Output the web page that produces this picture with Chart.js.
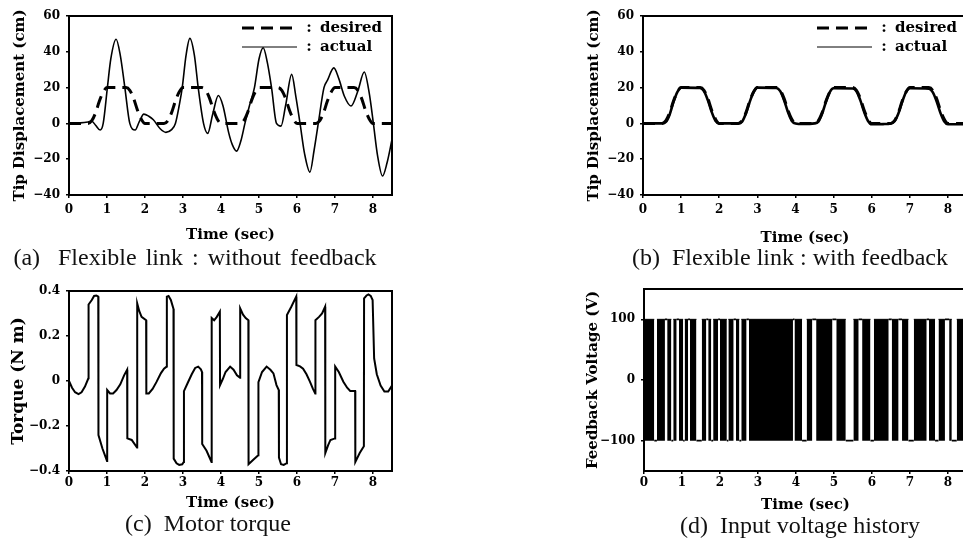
<!DOCTYPE html>
<html>
<head>
<meta charset="UTF-8">
<title>Flexible link response</title>
<script src="https://cdn.jsdelivr.net/npm/chart.js@4.4.1/dist/chart.umd.min.js"></script>
<style>
html, body { margin: 0; padding: 0; background: #fff; width: 963px; height: 541px; overflow: hidden; position: relative; }
canvas { position: absolute; }
.cap { position: absolute; font-family: "Liberation Serif", serif; font-size: 24px; color: #111; white-space: pre; transform: translate(-50%, -50%); }
</style>
<script>
// time axis, shared by all four panels
var timeTicks = [0, 1, 2, 3, 4, 5, 6, 7, 8];

// (a), (b) tip displacement (cm)
var dispTicks = [-40, -20, 0, 20, 40, 60];
var dispLabels = ['\u221240', '\u221220', '0', '20', '40', '60'];
var desiredCm = [[0,0],[0.5,0],[0.6,1.5],[0.7,6],[0.8,12.5],[0.9,17.5],[1.0,20],[1.5,20],[1.6,18.5],[1.7,14],[1.8,7.5],[1.9,2.5],[2.0,0],
	[2.5,0],[2.6,1.5],[2.7,6],[2.8,12.5],[2.9,17.5],[3.0,20],[3.5,20],[3.6,18.5],[3.7,14],[3.8,7.5],[3.9,2.5],[4.0,0],
	[4.5,0],[4.6,1.5],[4.7,6],[4.8,12.5],[4.9,17.5],[5.0,20],[5.5,20],[5.6,18.5],[5.7,14],[5.8,7.5],[5.9,2.5],[6.0,0],
	[6.5,0],[6.6,1.5],[6.7,6],[6.8,12.5],[6.9,17.5],[7.0,20],[7.5,20],[7.6,18.5],[7.7,14],[7.8,7.5],[7.9,2.5],[8.0,0],[8.5,0]];
var actualNoFb = [[0,0],[0.3,0.3],[0.5,0.8],[0.6,1.2],[0.7,-1],[0.82,-3.7],[0.9,0],[1.01,20],[1.1,36],[1.24,47],[1.35,38],[1.47,20],[1.6,0],[1.74,-3.7],
	[1.85,1],[1.97,5.2],[2.1,4],[2.22,2],[2.4,-3],[2.55,-5],[2.7,-3.5],[2.8,0],[2.9,10],[2.98,20],[3.08,38],[3.18,47.5],[3.3,38],[3.4,20],
	[3.54,0],[3.65,-5.6],[3.78,5],[3.93,15.6],[4.05,10],[4.2,-5],[4.3,-12],[4.41,-15.5],[4.52,-10],[4.63,0],[4.75,10],[4.88,20],[5.0,36],
	[5.11,42.3],[5.22,34],[5.33,20],[5.46,0],[5.58,-1.5],[5.7,10],[5.86,27.4],[5.97,15],[6.08,0],[6.2,-17],[6.34,-27.2],[6.45,-15],[6.56,0],
	[6.71,20],[6.8,24],[6.97,31],[7.1,25],[7.25,15],[7.42,9.7],[7.6,18],[7.77,28.7],[7.9,17],[8.01,0],[8.12,-18],[8.25,-29.4],[8.37,-22],[8.5,-9]];
var actualFb = [[0,0],[0.5,0],[0.6,0.8],[0.7,5],[0.8,12],[0.9,17.5],[1.0,20],[1.5,19.8],[1.6,18],[1.7,13],[1.8,6.5],[1.9,1.5],[2.0,0],
	[2.5,0],[2.6,1],[2.7,5.5],[2.8,12],[2.9,17.5],[3.0,20],[3.5,19.8],[3.6,18],[3.7,13],[3.8,6.5],[3.9,1.5],[4.0,0],[4.2,-0.3],
	[4.5,0],[4.6,1],[4.7,5.5],[4.8,12],[4.9,17.5],[5.0,19.6],[5.5,19.5],[5.6,18],[5.7,13],[5.8,6.5],[5.9,1.5],[6.0,-0.5],[6.3,-0.4],
	[6.5,0],[6.6,1.2],[6.7,5.5],[6.8,12],[6.9,17.5],[7.0,19.6],[7.5,19.4],[7.6,17.5],[7.7,12.5],[7.8,6],[7.9,1.2],[8.0,-0.5],[8.5,-0.5]];

// (c) motor torque (N m)
var torqueTicks = [-0.4, -0.2, 0, 0.2, 0.4];
var torqueLabels = ['\u22120.4', '\u22120.2', '0', '0.2', '0.4'];
var torqueNm = [[0,0],[0.08,-0.03],[0.16,-0.05],[0.25,-0.058],[0.33,-0.05],[0.42,-0.025],[0.51,0.012],
	[0.515,0.34],[0.6,0.36],[0.66,0.378],[0.72,0.38],[0.77,0.375],
	[0.775,-0.24],[0.88,-0.3],[1.0,-0.355],
	[1.005,-0.04],[1.08,-0.055],[1.16,-0.055],[1.25,-0.04],[1.35,-0.015],[1.45,0.025],[1.53,0.05],
	[1.535,-0.255],[1.65,-0.262],[1.79,-0.296],
	[1.795,0.345],[1.85,0.31],[1.91,0.285],[2.03,0.27],
	[2.035,-0.055],[2.1,-0.055],[2.2,-0.035],[2.3,-0.005],[2.42,0.035],[2.5,0.055],[2.57,0.064],
	[2.575,0.375],[2.62,0.378],[2.68,0.36],[2.75,0.32],
	[2.755,-0.345],[2.83,-0.366],[2.9,-0.373],[2.98,-0.37],[3.02,-0.36],
	[3.025,-0.045],[3.12,-0.01],[3.23,0.03],[3.32,0.058],[3.4,0.064],[3.47,0.052],[3.5,0.04],
	[3.505,-0.28],[3.62,-0.31],[3.75,-0.36],
	[3.755,0.28],[3.82,0.27],[3.89,0.285],[3.97,0.308],
	[3.975,-0.018],[4.05,0.01],[4.12,0.04],[4.24,0.064],[4.33,0.05],[4.42,0.025],[4.5,0.015],
	[4.505,0.323],[4.58,0.295],[4.65,0.28],[4.72,0.27],
	[4.725,-0.37],[4.85,-0.35],[4.98,-0.33],
	[4.985,-0.005],[5.08,0.04],[5.2,0.064],[5.3,0.05],[5.38,0.034],[5.46,-0.018],[5.52,-0.04],
	[5.525,-0.34],[5.58,-0.37],[5.65,-0.373],[5.73,-0.365],
	[5.735,0.293],[5.85,0.33],[5.98,0.375],
	[5.985,0.071],[6.08,0.065],[6.16,0.055],[6.25,0.03],[6.34,-0.003],[6.42,-0.035],[6.48,-0.055],
	[6.485,0.27],[6.58,0.285],[6.66,0.3],[6.74,0.33],
	[6.745,-0.32],[6.82,-0.285],[6.88,-0.262],[7.0,-0.255],
	[7.005,0.064],[7.1,0.04],[7.22,-0.003],[7.32,-0.03],[7.4,-0.044],[7.53,-0.044],
	[7.535,-0.36],[7.65,-0.32],[7.76,-0.29],
	[7.765,0.367],[7.83,0.38],[7.88,0.385],[7.94,0.378],[7.99,0.36],
	[8.03,0.1],[8.1,0.03],[8.2,-0.02],[8.3,-0.047],[8.4,-0.047],[8.5,-0.02]];

// (d) feedback voltage (V): chattering everywhere except these hold intervals
var voltTicks = [-100, 0, 100];
var voltLabels = ['\u2212100', '0', '100'];
var gapStart = [0.27,0.55,0.72,0.86,1.03,1.16,1.38,1.64,1.77,1.95,2.18,2.36,2.51,2.70,3.92,4.16,4.43,4.96,5.31,5.65,5.96,6.44,6.70,6.96,7.44,7.66,7.92,8.10];
var gapEnd   = [0.34,0.61,0.77,0.92,1.07,1.21,1.52,1.69,1.82,2.00,2.22,2.42,2.56,2.76,3.96,4.28,4.53,5.06,5.51,5.74,6.05,6.52,6.79,7.10,7.50,7.75,8.03,8.23];
var gapLevel = [-100,100,-100,100,-100,100,-100,100,-100,100,-100,100,-100,100,100,-100,100,100,-100,100,-100,100,100,-100,100,-100,100,-100];
</script>
</head>
<body>
<canvas id="cA" width="400" height="250" style="left:0px; top:0px"></canvas>
<canvas id="cB" width="407" height="250" style="left:560px; top:0px"></canvas>
<canvas id="cC" width="400" height="240" style="left:0px; top:275px"></canvas>
<canvas id="cD" width="407" height="243" style="left:560px; top:275px"></canvas>

<div class="cap" style="left:195px; top:257px; word-spacing:3px">(a)  Flexible link : without feedback</div>
<div class="cap" style="left:790px; top:257px">(b)  Flexible link : with feedback</div>
<div class="cap" style="left:208px; top:523px">(c)  Motor torque</div>
<div class="cap" style="left:800px; top:525px">(d)  Input voltage history</div>

<script>
var tickFont = { family: '"DejaVu Serif"', weight: 'bold', size: 12 };
var titleFont = { family: '"DejaVu Serif"', weight: 'bold', size: 15 };

function pts(list) {
	return list.map(function (p) { return { x: p[0], y: p[1] }; });
}

// box round the plot area
var framePlugin = {
	id: 'frame',
	afterDatasetsDraw: function (chart) {
		var a = chart.chartArea, ctx = chart.ctx;
		ctx.save();
		ctx.strokeStyle = '#000';
		ctx.lineWidth = 2;
		ctx.strokeRect(a.left, a.top, a.right - a.left, a.bottom - a.top);
		ctx.restore();
	}
};

// "line : label" key inside the top right corner
var keyPlugin = {
	id: 'key',
	afterDatasetsDraw: function (chart, args, opts) {
		if (!opts.show) return;
		var a = chart.chartArea, ctx = chart.ctx;
		ctx.save();
		chart.data.datasets.forEach(function (ds, i) {
			var y = a.top + 12 + i * 19;
			ctx.strokeStyle = '#000';
			ctx.lineWidth = ds.keyWidth;
			ctx.setLineDash(ds.borderDash || []);
			ctx.beginPath();
			ctx.moveTo(a.right - 150, y);
			ctx.lineTo(a.right - 95, y);
			ctx.stroke();
			ctx.setLineDash([]);
			ctx.fillStyle = '#000';
			ctx.font = 'bold 15px "DejaVu Serif"';
			ctx.textBaseline = 'middle';
			ctx.textAlign = 'center';
			ctx.fillText(':', a.right - 83, y);
			ctx.textAlign = 'left';
			ctx.fillText(ds.label, a.right - 72, y);
		});
		ctx.restore();
	}
};

function scales(o) {
	return {
		x: {
			type: 'linear', min: 0, max: 8.5,
			afterBuildTicks: function (s) { s.ticks = timeTicks.map(function (v) { return { value: v }; }); },
			afterFit: function (s) { s.height = o.xh; },
			grid: { drawOnChartArea: false, tickLength: 3, color: '#000', lineWidth: 1.5 },
			border: { display: false },
			ticks: { color: '#000', font: tickFont, padding: o.xp, maxRotation: 0, autoSkip: false },
			title: { display: true, text: 'Time (sec)', color: '#000', font: titleFont, padding: { top: 0, bottom: o.xtb } }
		},
		y: {
			type: 'linear', min: o.ymin, max: o.ymax,
			afterBuildTicks: function (s) { s.ticks = o.yt.map(function (v) { return { value: v }; }); },
			afterFit: function (s) { s.width = o.yw; },
			grid: { drawOnChartArea: false, tickLength: 3, color: '#000', lineWidth: 1.5 },
			border: { display: false },
			ticks: { color: '#000', font: tickFont, padding: 6, autoSkip: false,
				callback: function (v, i) { return o.yl[i]; } },
			title: { display: true, text: o.ytitle, color: '#000', font: o.yfont || titleFont, padding: { top: o.ytp, bottom: 0 } }
		}
	};
}

function makeChart(id, datasets, o) {
	return new Chart(document.getElementById(id), {
		type: 'line',
		data: { datasets: datasets },
		options: {
			responsive: false,
			animation: false,
			events: [],
			layout: { padding: { top: o.pt, right: o.pr, left: 0, bottom: 0 } },
			elements: { point: { radius: 0 } },
			scales: scales(o),
			plugins: { legend: { display: false }, tooltip: { enabled: false }, key: { show: !!o.key } }
		},
		plugins: [framePlugin, keyPlugin]
	});
}

// (a)
makeChart('cA', [
	{ label: 'desired', data: pts(desiredCm), borderColor: '#000', borderWidth: 3, borderDash: [12, 7], keyWidth: 3, cubicInterpolationMode: 'monotone' },
	{ label: 'actual', data: pts(actualNoFb), borderColor: '#000', borderWidth: 1.6, keyWidth: 1, cubicInterpolationMode: 'monotone' }
], { key: true, pt: 16, pr: 8, yw: 69, xh: 55, xp: 5, xtb: 6, ymin: -40, ymax: 60, yt: dispTicks, yl: dispLabels,
	ytitle: 'Tip Displacement (cm)', ytp: 11 });

// (b)
makeChart('cB', [
	{ label: 'desired', data: pts(desiredCm), borderColor: '#000', borderWidth: 3, borderDash: [12, 7], keyWidth: 3, cubicInterpolationMode: 'monotone' },
	{ label: 'actual', data: pts(actualFb), borderColor: '#000', borderWidth: 2.6, keyWidth: 1, cubicInterpolationMode: 'monotone' }
], { key: true, pt: 16, pr: 0, yw: 83, xh: 55, xp: 5, xtb: 3, ymin: -40, ymax: 60, yt: dispTicks, yl: dispLabels,
	ytitle: 'Tip Displacement (cm)', ytp: 25 });

// (c)
makeChart('cC', [
	{ label: 'torque', data: pts(torqueNm), borderColor: '#000', borderWidth: 2 }
], { pt: 16, pr: 8, yw: 69, xh: 44, xp: 2, xtb: 3, ymin: -0.4, ymax: 0.4, yt: torqueTicks, yl: torqueLabels,
	ytitle: 'Torque (N m)', ytp: 8, yfont: { family: '"DejaVu Serif"', weight: 'bold', size: 17 } });

// (d): chattering bands filled solid, holds drawn as plain lines
var bandPts = [], holdPts = [], s = 0;
gapStart.forEach(function (g, i) {
	bandPts.push({ x: s, y: 100 }, { x: g, y: 100 }, { x: (g + gapEnd[i]) / 2, y: null });
	holdPts.push({ x: g, y: gapLevel[i] }, { x: gapEnd[i], y: gapLevel[i] }, { x: gapEnd[i] + 0.001, y: null });
	s = gapEnd[i];
});
bandPts.push({ x: s, y: 100 }, { x: 8.5, y: 100 });

makeChart('cD', [
	{ label: 'chatter', data: bandPts, borderColor: '#000', borderWidth: 1, backgroundColor: '#000', fill: { value: -100 }, spanGaps: false },
	{ label: 'hold', data: holdPts, borderColor: '#000', borderWidth: 1.8, spanGaps: false }
], { pt: 14, pr: 0, yw: 84, xh: 47, xp: 2, xtb: 4, ymin: -150, ymax: 150, yt: voltTicks, yl: voltLabels,
	ytitle: 'Feedback Voltage (V)', ytp: 24 });
</script>
</body>
</html>
